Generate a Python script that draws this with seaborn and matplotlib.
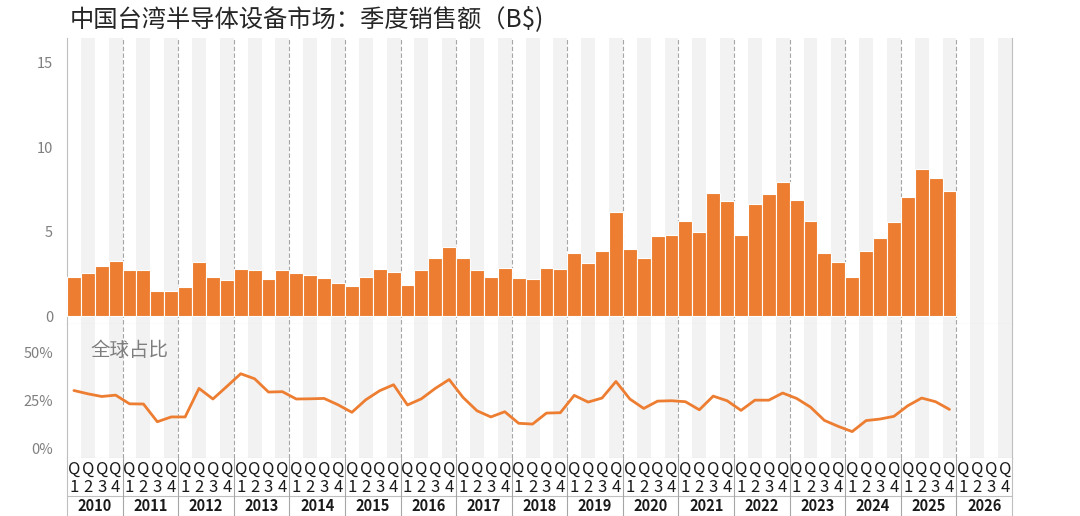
import numpy as np
import pandas as pd
import matplotlib
matplotlib.use("Agg")
import matplotlib.pyplot as plt
import seaborn as sns

# 数据
years = list(range(2010, 2027))
quarters = ["1", "2", "3", "4"]
sales = [2.29, 2.53, 2.96, 3.24, 2.70, 2.74, 1.46, 1.50,
         1.74, 3.22, 2.29, 2.11, 2.80, 2.70, 2.17, 2.72,
         2.57, 2.43, 2.25, 1.98, 1.78, 2.29, 2.80, 2.60,
         1.84, 2.70, 3.41, 4.10, 3.45, 2.74, 2.33, 2.84,
         2.23, 2.17, 2.86, 2.76, 3.75, 3.16, 3.87, 6.15,
         3.96, 3.43, 4.71, 4.81, 5.64, 4.99, 7.28, 6.80,
         4.81, 6.65, 7.22, 7.93, 6.88, 5.64, 3.73, 3.21,
         2.29, 3.87, 4.64, 5.58, 7.04, 8.72, 8.15, 7.40]
share = [30.3, 28.6, 27.2, 27.9, 23.4, 23.3, 14.1, 16.6,
         16.6, 31.4, 25.9, 32.4, 39.0, 36.4, 29.5, 29.7,
         25.9, 26.0, 26.2, 22.9, 19.0, 25.5, 30.2, 33.3,
         22.8, 26.0, 31.4, 36.0, 26.7, 19.8, 16.6, 19.3,
         13.3, 12.9, 18.6, 18.8, 27.8, 24.3, 26.4, 35.0,
         25.9, 21.0, 24.8, 25.0, 24.5, 20.3, 27.4, 25.0,
         20.0, 25.3, 25.3, 29.0, 26.2, 21.7, 14.8, 11.7,
         9.0, 14.7, 15.5, 16.9, 22.4, 26.4, 24.5, 20.5]

slots = [f"{y}Q{q}" for y in years for q in quarters]
n = len(slots)
orange = "#ED7D31"
grey_txt = "#7f7f7f"

sns.set_style("white")
plt.rcParams['font.family'] = ['Noto Sans CJK SC', 'DejaVu Sans']

fig = plt.figure(figsize=(10.8, 5.16), dpi=100)
L, W = 67 / 1080, 945 / 1080
ax1 = fig.add_axes([L, 192 / 516, W, 286 / 516])
ax2 = fig.add_axes([L, 58 / 516, W, 134 / 516])
ax3 = fig.add_axes([L, 0, W, 58 / 516])

# 柱状图
df = pd.DataFrame({"slot": slots[:len(sales)], "sales": sales})
sns.barplot(data=df, x="slot", y="sales", order=slots, color=orange, saturation=1,
            width=1, edgecolor="white", linewidth=0.8, ax=ax1, zorder=3)

# 全球占比
sns.lineplot(x=np.arange(len(share)), y=share, color=orange, linewidth=2, ax=ax2, zorder=3)

for ax in (ax1, ax2, ax3):
    ax.set_xlim(-0.5, n - 0.5)
    ax.set_xticks([])
    ax.set_xlabel("")
    ax.set_ylabel("")
    for s in ax.spines.values():
        s.set_color("#bfbfbf")
        s.set_linewidth(0.8)
    ax.spines['top'].set_visible(False)

# 背景条纹和年份分隔线
for ax in (ax1, ax2):
    for i in range(n):
        if i % 4 in (1, 3):
            ax.axvspan(i - 0.5, i + 0.5, color="#f2f2f2", lw=0, zorder=0)
    for k in range(1, len(years)):
        ax.axvline(4 * k - 0.5, color="#a6a6a6", lw=0.8, ls=(0, (4, 2)), zorder=1)

ax1.set_ylim(-0.47, 16.45)
ax1.set_yticks([0, 5, 10, 15])
ax2.set_ylim(-4.7, 64.8)
ax2.set_yticks([0, 25, 50])
ax2.set_yticklabels(["0%", "25%", "50%"])
for ax in (ax1, ax2):
    ax.tick_params(axis="y", length=0, pad=10, labelsize=10.5, labelcolor=grey_txt)

ax2.text(1.2, 51, "全球占比", fontsize=14, color=grey_txt, va="center", ha="left")

# 季度/年份标签
ax3.set_ylim(0, 58)
ax3.set_yticks([])
ax3.axhline(20, color="#bfbfbf", lw=0.8)
for i in range(n):
    ax3.text(i, 47, "Q", ha="center", va="center", fontsize=12, color="#1a1a1a",
             fontweight="medium")
    ax3.text(i, 29, quarters[i % 4], ha="center", va="center", fontsize=12,
             color="#1a1a1a", fontweight="medium")
for k, y in enumerate(years):
    ax3.text(4 * k + 1.5, 10, str(y), ha="center", va="center", fontsize=10.5,
             color="#1a1a1a", fontweight="bold")
    if k > 0:
        ax3.axvline(4 * k - 0.5, color="#a6a6a6", lw=0.8)

fig.text(70 / 1080, 1 - 19 / 516, "中国台湾半导体设备市场：季度销售额（B$)",
         fontsize=17.5, color="#262626", va="center", ha="left")

fig.savefig("out.png", dpi=100)
